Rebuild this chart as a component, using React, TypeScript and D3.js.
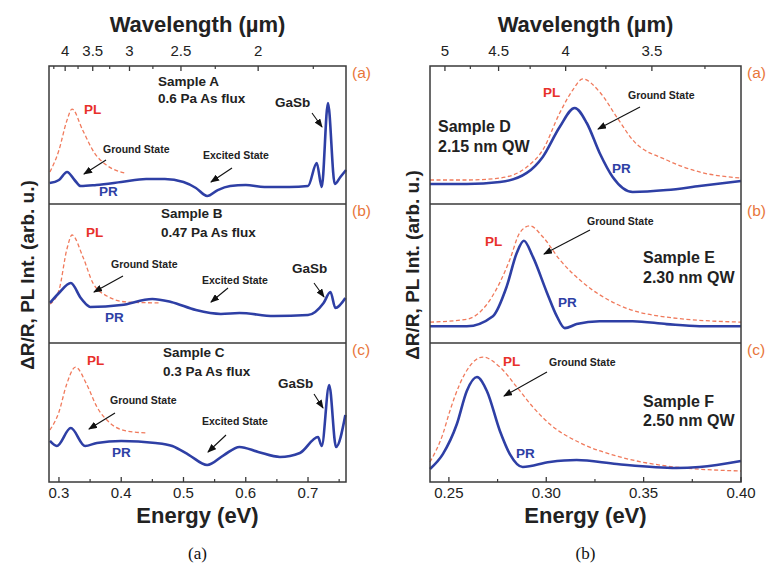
import React from "react";
import * as d3 from "d3";

const FONT = "'Liberation Sans', Arial, Helvetica, sans-serif";
const BLUE = "#2E3FA5";
const PLC = "#F07A5C";
const ORANGE = "#E8763A";
const HC = 1.23984; // eV·µm

// ---------- axis ticks ----------
const leftEnergyTicks = [0.3, 0.4, 0.5, 0.6, 0.7];
const leftEnergyLabels = ["0.3", "0.4", "0.5", "0.6", "0.7"];
const leftEnergyMinor = [0.35, 0.45, 0.55, 0.65, 0.75];
const leftWaveTicks = [4, 3.5, 3, 2.5, 2];
const leftWaveLabels = ["4", "3.5", "3", "2.5", "2"];
const leftWaveMinor = [4.25, 3.75, 3.25, 2.75, 2.25, 1.75];

const rightEnergyTicks = [0.25, 0.3, 0.35, 0.4];
const rightEnergyLabels = ["0.25", "0.30", "0.35", "0.40"];
const rightEnergyMinor = [0.275, 0.325, 0.375];
const rightWaveTicks = [5, 4.5, 4, 3.5];
const rightWaveLabels = ["5", "4.5", "4", "3.5"];
const rightWaveMinor = [4.75, 4.25, 3.75, 3.25];

// ---------- Sample A ----------
const prA_E = [0.285, 0.3, 0.313, 0.325, 0.335, 0.36, 0.4, 0.44, 0.47, 0.5, 0.52, 0.538, 0.555, 0.575, 0.6, 0.63, 0.67, 0.7, 0.714, 0.722, 0.732, 0.743, 0.752, 0.761];
const prA_V = [0.152, 0.174, 0.232, 0.174, 0.13, 0.138, 0.159, 0.181, 0.181, 0.159, 0.116, 0.058, 0.101, 0.13, 0.138, 0.123, 0.123, 0.13, 0.297, 0.123, 0.732, 0.145, 0.196, 0.246];
const plA_E = [0.2855, 0.3, 0.312, 0.321, 0.338, 0.357, 0.376, 0.405];
const plA_V = [0.232, 0.39, 0.594, 0.688, 0.536, 0.37, 0.283, 0.225];

// ---------- Sample B ----------
const prB_E = [0.2855, 0.3, 0.319, 0.335, 0.345, 0.35, 0.4, 0.45, 0.48, 0.52, 0.56, 0.59, 0.645, 0.7, 0.725, 0.736, 0.744, 0.76];
const prB_V = [0.288, 0.36, 0.432, 0.324, 0.273, 0.259, 0.273, 0.317, 0.295, 0.237, 0.209, 0.216, 0.194, 0.201, 0.288, 0.367, 0.252, 0.324];
const plB_E = [0.2855, 0.3, 0.313, 0.321, 0.3385, 0.3545, 0.377, 0.409, 0.462];
const plB_V = [0.28, 0.38, 0.68, 0.777, 0.619, 0.432, 0.338, 0.295, 0.288];

// ---------- Sample C ----------
const prC_E = [0.2855, 0.2965, 0.319, 0.342, 0.361, 0.4, 0.455, 0.482, 0.509, 0.538, 0.565, 0.59, 0.62, 0.655, 0.687, 0.716, 0.722, 0.734, 0.745, 0.76];
const prC_V = [0.295, 0.259, 0.388, 0.259, 0.281, 0.295, 0.281, 0.259, 0.194, 0.122, 0.194, 0.252, 0.216, 0.18, 0.209, 0.324, 0.259, 0.698, 0.252, 0.482];
const plC_E = [0.2855, 0.3, 0.312, 0.3265, 0.345, 0.361, 0.382, 0.409, 0.441];
const plC_V = [0.374, 0.504, 0.698, 0.827, 0.698, 0.54, 0.424, 0.367, 0.353];

// ---------- Sample D ----------
const prD_E = [0.2403, 0.2592, 0.2762, 0.29, 0.2982, 0.3069, 0.3146, 0.3208, 0.3274, 0.3341, 0.3444, 0.3618, 0.3787, 0.4];
const prD_V = [0.145, 0.145, 0.159, 0.225, 0.341, 0.558, 0.696, 0.587, 0.37, 0.196, 0.087, 0.101, 0.13, 0.167];
const plD_E = [0.2403, 0.2592, 0.2762, 0.29, 0.2982, 0.3069, 0.3136, 0.3187, 0.3274, 0.3362, 0.3444, 0.3618, 0.3787, 0.4];
const plD_V = [0.174, 0.174, 0.188, 0.268, 0.391, 0.659, 0.826, 0.906, 0.812, 0.63, 0.464, 0.319, 0.232, 0.188];

// ---------- Sample E ----------
const prE_E = [0.2403, 0.2592, 0.2726, 0.2797, 0.2849, 0.2885, 0.2931, 0.3003, 0.3054, 0.3095, 0.3156, 0.3274, 0.3444, 0.3618, 0.3787, 0.4];
const prE_V = [0.121, 0.121, 0.193, 0.407, 0.65, 0.736, 0.621, 0.364, 0.193, 0.107, 0.136, 0.157, 0.157, 0.136, 0.121, 0.121];
const plE_E = [0.2403, 0.2592, 0.2674, 0.2762, 0.2813, 0.2864, 0.2915, 0.2982, 0.3069, 0.3187, 0.3362, 0.3618, 0.4];
const plE_V = [0.15, 0.171, 0.243, 0.436, 0.6, 0.793, 0.843, 0.764, 0.6, 0.436, 0.279, 0.186, 0.15];

// ---------- Sample F ----------
const prF_E = [0.2403, 0.2469, 0.2541, 0.2592, 0.2644, 0.2695, 0.2762, 0.2813, 0.2879, 0.3018, 0.3156, 0.3362, 0.3669, 0.3787, 0.4];
const prF_V = [0.094, 0.201, 0.417, 0.655, 0.755, 0.655, 0.367, 0.201, 0.108, 0.144, 0.158, 0.129, 0.101, 0.108, 0.151];
const plF_E = [0.2403, 0.2469, 0.2505, 0.2556, 0.2608, 0.2674, 0.2762, 0.2849, 0.2931, 0.3018, 0.3187, 0.3362, 0.3618, 0.4];
const plF_V = [0.144, 0.345, 0.511, 0.705, 0.835, 0.899, 0.827, 0.683, 0.54, 0.417, 0.273, 0.187, 0.115, 0.079];

const zip = (xs: number[], ys: number[]) => xs.map((x, i) => [x, ys[i]] as [number, number]);

type Ann = { t: string; x: number; y: number; size: number; color?: string; anchor?: string };
type Arr = { x1: number; y1: number; x2: number; y2: number };

type PanelSpec = {
  pr: [number, number][];
  pl: [number, number][];
  texts: Ann[];
  arrows: Arr[];
  tag: string;
};

const FRAME_TOP = 66;
const PANEL_EDGES = [66, 204, 343, 482];

function Chart(props: {
  x0: number;
  x1: number;
  domain: [number, number];
  eTicks: number[];
  eLabels: string[];
  eMinor: number[];
  wTicks: number[];
  wLabels: string[];
  wMinor: number[];
  panels: PanelSpec[];
  tagX: number;
  yLabelX: number;
  yLabelY: number;
  sub: string;
}) {
  const { x0, x1, domain, panels } = props;
  const x = d3.scaleLinear().domain(domain).range([x0, x1]);
  const bottom = PANEL_EDGES[3];
  const cx = (x0 + x1) / 2;
  return (
    <g>
      {/* titles */}
      <text x={cx} y={32} textAnchor="middle" fontFamily={FONT} fontWeight="bold" fontSize={22} fill="#222">
        Wavelength (µm)
      </text>
      {props.wTicks.map((w, i) => (
        <text key={"wl" + i} x={x(HC / w)} y={56} textAnchor="middle" fontFamily={FONT} fontSize={15} fill="#222">
          {props.wLabels[i]}
        </text>
      ))}
      {props.eTicks.map((e, i) => (
        <text key={"el" + i} x={x(e)} y={498} textAnchor="middle" fontFamily={FONT} fontSize={15} fill="#222">
          {props.eLabels[i]}
        </text>
      ))}
      <text x={cx} y={523} textAnchor="middle" fontFamily={FONT} fontWeight="bold" fontSize={22} fill="#222">
        Energy (eV)
      </text>
      <text x={cx} y={559} textAnchor="middle" fontFamily="'Liberation Serif', 'Times New Roman', serif" fontSize={17} fill="#111">
        {props.sub}
      </text>
      <text
        transform={`translate(${props.yLabelX},${props.yLabelY}) rotate(-90)`}
        textAnchor="middle"
        fontFamily={FONT}
        fontWeight="bold"
        fontSize={19}
        fill="#222"
      >
        ΔR/R, PL Int. (arb. u.)
      </text>

      {panels.map((p, pi) => {
        const top = PANEL_EDGES[pi];
        const bot = PANEL_EDGES[pi + 1];
        const y = d3.scaleLinear().domain([0, 1]).range([bot, top]);
        const line = d3
          .line<[number, number]>()
          .x((d) => x(d[0]))
          .y((d) => y(d[1]))
          .curve(d3.curveMonotoneX);
        return (
          <g key={pi}>
            <path d={line(p.pl) || ""} fill="none" stroke={PLC} strokeWidth={1.3} strokeDasharray="4,2.5" />
            <path d={line(p.pr) || ""} fill="none" stroke={BLUE} strokeWidth={2.6} strokeLinejoin="round" />
            {p.texts.map((t, i) => (
              <text
                key={i}
                x={t.x}
                y={t.y}
                textAnchor={t.anchor || "start"}
                fontFamily={FONT}
                fontWeight="bold"
                fontSize={t.size}
                fill={t.color || "#222"}
              >
                {t.t}
              </text>
            ))}
            {p.arrows.map((a, i) => (
              <line key={"a" + i} x1={a.x1} y1={a.y1} x2={a.x2} y2={a.y2} stroke="#111" strokeWidth={1.1} markerEnd="url(#arrowHead)" />
            ))}
            <text x={props.tagX} y={top + 12} fontFamily={FONT} fontSize={15.5} fill={ORANGE}>
              {p.tag}
            </text>
          </g>
        );
      })}

      {/* frame */}
      <rect x={x0} y={FRAME_TOP} width={x1 - x0} height={bottom - FRAME_TOP} fill="none" stroke="#3a3a3a" strokeWidth={1.5} />
      {PANEL_EDGES.slice(1, 3).map((py, i) => (
        <line key={"pe" + i} x1={x0} x2={x1} y1={py} y2={py} stroke="#3a3a3a" strokeWidth={1.5} />
      ))}
      {/* top ticks */}
      {props.wTicks.map((w, i) => (
        <line key={"wt" + i} x1={x(HC / w)} x2={x(HC / w)} y1={FRAME_TOP} y2={FRAME_TOP + 5} stroke="#3a3a3a" strokeWidth={1.3} />
      ))}
      {props.wMinor.map((w, i) => (
        <line key={"wm" + i} x1={x(HC / w)} x2={x(HC / w)} y1={FRAME_TOP} y2={FRAME_TOP + 3} stroke="#3a3a3a" strokeWidth={1.2} />
      ))}
      {/* bottom ticks */}
      {props.eTicks.map((e, i) => (
        <line key={"et" + i} x1={x(e)} x2={x(e)} y1={bottom} y2={bottom - 5} stroke="#3a3a3a" strokeWidth={1.3} />
      ))}
      {props.eMinor.map((e, i) => (
        <line key={"em" + i} x1={x(e)} x2={x(e)} y1={bottom} y2={bottom - 3} stroke="#3a3a3a" strokeWidth={1.2} />
      ))}
    </g>
  );
}

const leftPanels: PanelSpec[] = [
  {
    pr: zip(prA_E, prA_V),
    pl: zip(plA_E, plA_V),
    tag: "(a)",
    texts: [
      { t: "Sample A", x: 158, y: 86, size: 13.5 },
      { t: "0.6 Pa As flux", x: 158, y: 103, size: 13.5 },
      { t: "PL", x: 84, y: 114, size: 13.5, color: "#E8302A" },
      { t: "Ground State", x: 103, y: 153, size: 10.5 },
      { t: "Excited State", x: 203, y: 159, size: 10.5 },
      { t: "GaSb", x: 275, y: 107, size: 13.5 },
      { t: "PR", x: 99, y: 196, size: 13.5, color: BLUE },
    ],
    arrows: [
      { x1: 106, y1: 160, x2: 84, y2: 174 },
      { x1: 232, y1: 168, x2: 211, y2: 182 },
      { x1: 312, y1: 113, x2: 322, y2: 127 },
    ],
  },
  {
    pr: zip(prB_E, prB_V),
    pl: zip(plB_E, plB_V),
    tag: "(b)",
    texts: [
      { t: "Sample B", x: 161, y: 218, size: 13.5 },
      { t: "0.47 Pa As flux", x: 161, y: 237, size: 13.5 },
      { t: "PL", x: 86, y: 237, size: 13.5, color: "#E8302A" },
      { t: "Ground State", x: 111, y: 268, size: 10.5 },
      { t: "Excited State", x: 202, y: 284, size: 10.5 },
      { t: "GaSb", x: 292, y: 273, size: 13.5 },
      { t: "PR", x: 105, y: 322, size: 13.5, color: BLUE },
    ],
    arrows: [
      { x1: 123, y1: 276, x2: 94, y2: 292 },
      { x1: 228, y1: 288, x2: 211, y2: 302 },
      { x1: 314, y1: 283, x2: 324, y2: 297 },
    ],
  },
  {
    pr: zip(prC_E, prC_V),
    pl: zip(plC_E, plC_V),
    tag: "(c)",
    texts: [
      { t: "Sample C", x: 163, y: 357, size: 13.5 },
      { t: "0.3 Pa As flux", x: 163, y: 376, size: 13.5 },
      { t: "PL", x: 87, y: 365, size: 13.5, color: "#E8302A" },
      { t: "Ground State", x: 110, y: 404, size: 10.5 },
      { t: "Excited State", x: 202, y: 425, size: 10.5 },
      { t: "GaSb", x: 278, y: 388, size: 13.5 },
      { t: "PR", x: 112, y: 457, size: 13.5, color: BLUE },
    ],
    arrows: [
      { x1: 115, y1: 413, x2: 89, y2: 429 },
      { x1: 226, y1: 435, x2: 208, y2: 452 },
      { x1: 314, y1: 394, x2: 323, y2: 408 },
    ],
  },
];

const rightPanels: PanelSpec[] = [
  {
    pr: zip(prD_E, prD_V),
    pl: zip(plD_E, plD_V),
    tag: "(a)",
    texts: [
      { t: "PL", x: 543, y: 97, size: 13.5, color: "#E8302A" },
      { t: "Ground State", x: 628, y: 99, size: 10.5 },
      { t: "Sample D", x: 438, y: 132, size: 16 },
      { t: "2.15 nm QW", x: 438, y: 152, size: 16 },
      { t: "PR", x: 612, y: 173, size: 13.5, color: BLUE },
    ],
    arrows: [{ x1: 640, y1: 107, x2: 598, y2: 129 }],
  },
  {
    pr: zip(prE_E, prE_V),
    pl: zip(plE_E, plE_V),
    tag: "(b)",
    texts: [
      { t: "Ground State", x: 587, y: 225, size: 10.5 },
      { t: "PL", x: 485, y: 246, size: 13.5, color: "#E8302A" },
      { t: "Sample E", x: 643, y: 263, size: 16 },
      { t: "2.30 nm QW", x: 643, y: 283, size: 16 },
      { t: "PR", x: 558, y: 307, size: 13.5, color: BLUE },
    ],
    arrows: [{ x1: 590, y1: 230, x2: 544, y2: 254 }],
  },
  {
    pr: zip(prF_E, prF_V),
    pl: zip(plF_E, plF_V),
    tag: "(c)",
    texts: [
      { t: "PL", x: 503, y: 366, size: 13.5, color: "#E8302A" },
      { t: "Ground State", x: 549, y: 366, size: 10.5 },
      { t: "Sample F", x: 643, y: 407, size: 16 },
      { t: "2.50 nm QW", x: 643, y: 426, size: 16 },
      { t: "PR", x: 516, y: 458, size: 13.5, color: BLUE },
    ],
    arrows: [{ x1: 547, y1: 372, x2: 504, y2: 396 }],
  },
];

export default function App() {
  return (
    <svg
      width={766}
      height={566}
      viewBox="0 0 766 566"
      style={{ position: "absolute", left: 0, top: 0, background: "#fff" }}
    >
      <defs>
        <marker id="arrowHead" markerUnits="userSpaceOnUse" markerWidth={9} markerHeight={7} refX={8} refY={3.5} orient="auto">
          <path d="M0,0 L9,3.5 L0,7 z" fill="#111" />
        </marker>
      </defs>
      <rect x={0} y={0} width={766} height={566} fill="#fff" />
      <Chart
        x0={49}
        x1={346}
        domain={[0.284, 0.761]}
        eTicks={leftEnergyTicks}
        eLabels={leftEnergyLabels}
        eMinor={leftEnergyMinor}
        wTicks={leftWaveTicks}
        wLabels={leftWaveLabels}
        wMinor={leftWaveMinor}
        panels={leftPanels}
        tagX={352}
        yLabelX={34}
        yLabelY={275}
        sub="(a)"
      />
      <Chart
        x0={430}
        x1={741}
        domain={[0.2403, 0.4]}
        eTicks={rightEnergyTicks}
        eLabels={rightEnergyLabels}
        eMinor={rightEnergyMinor}
        wTicks={rightWaveTicks}
        wLabels={rightWaveLabels}
        wMinor={rightWaveMinor}
        panels={rightPanels}
        tagX={747}
        yLabelX={419}
        yLabelY={265}
        sub="(b)"
      />
    </svg>
  );
}
